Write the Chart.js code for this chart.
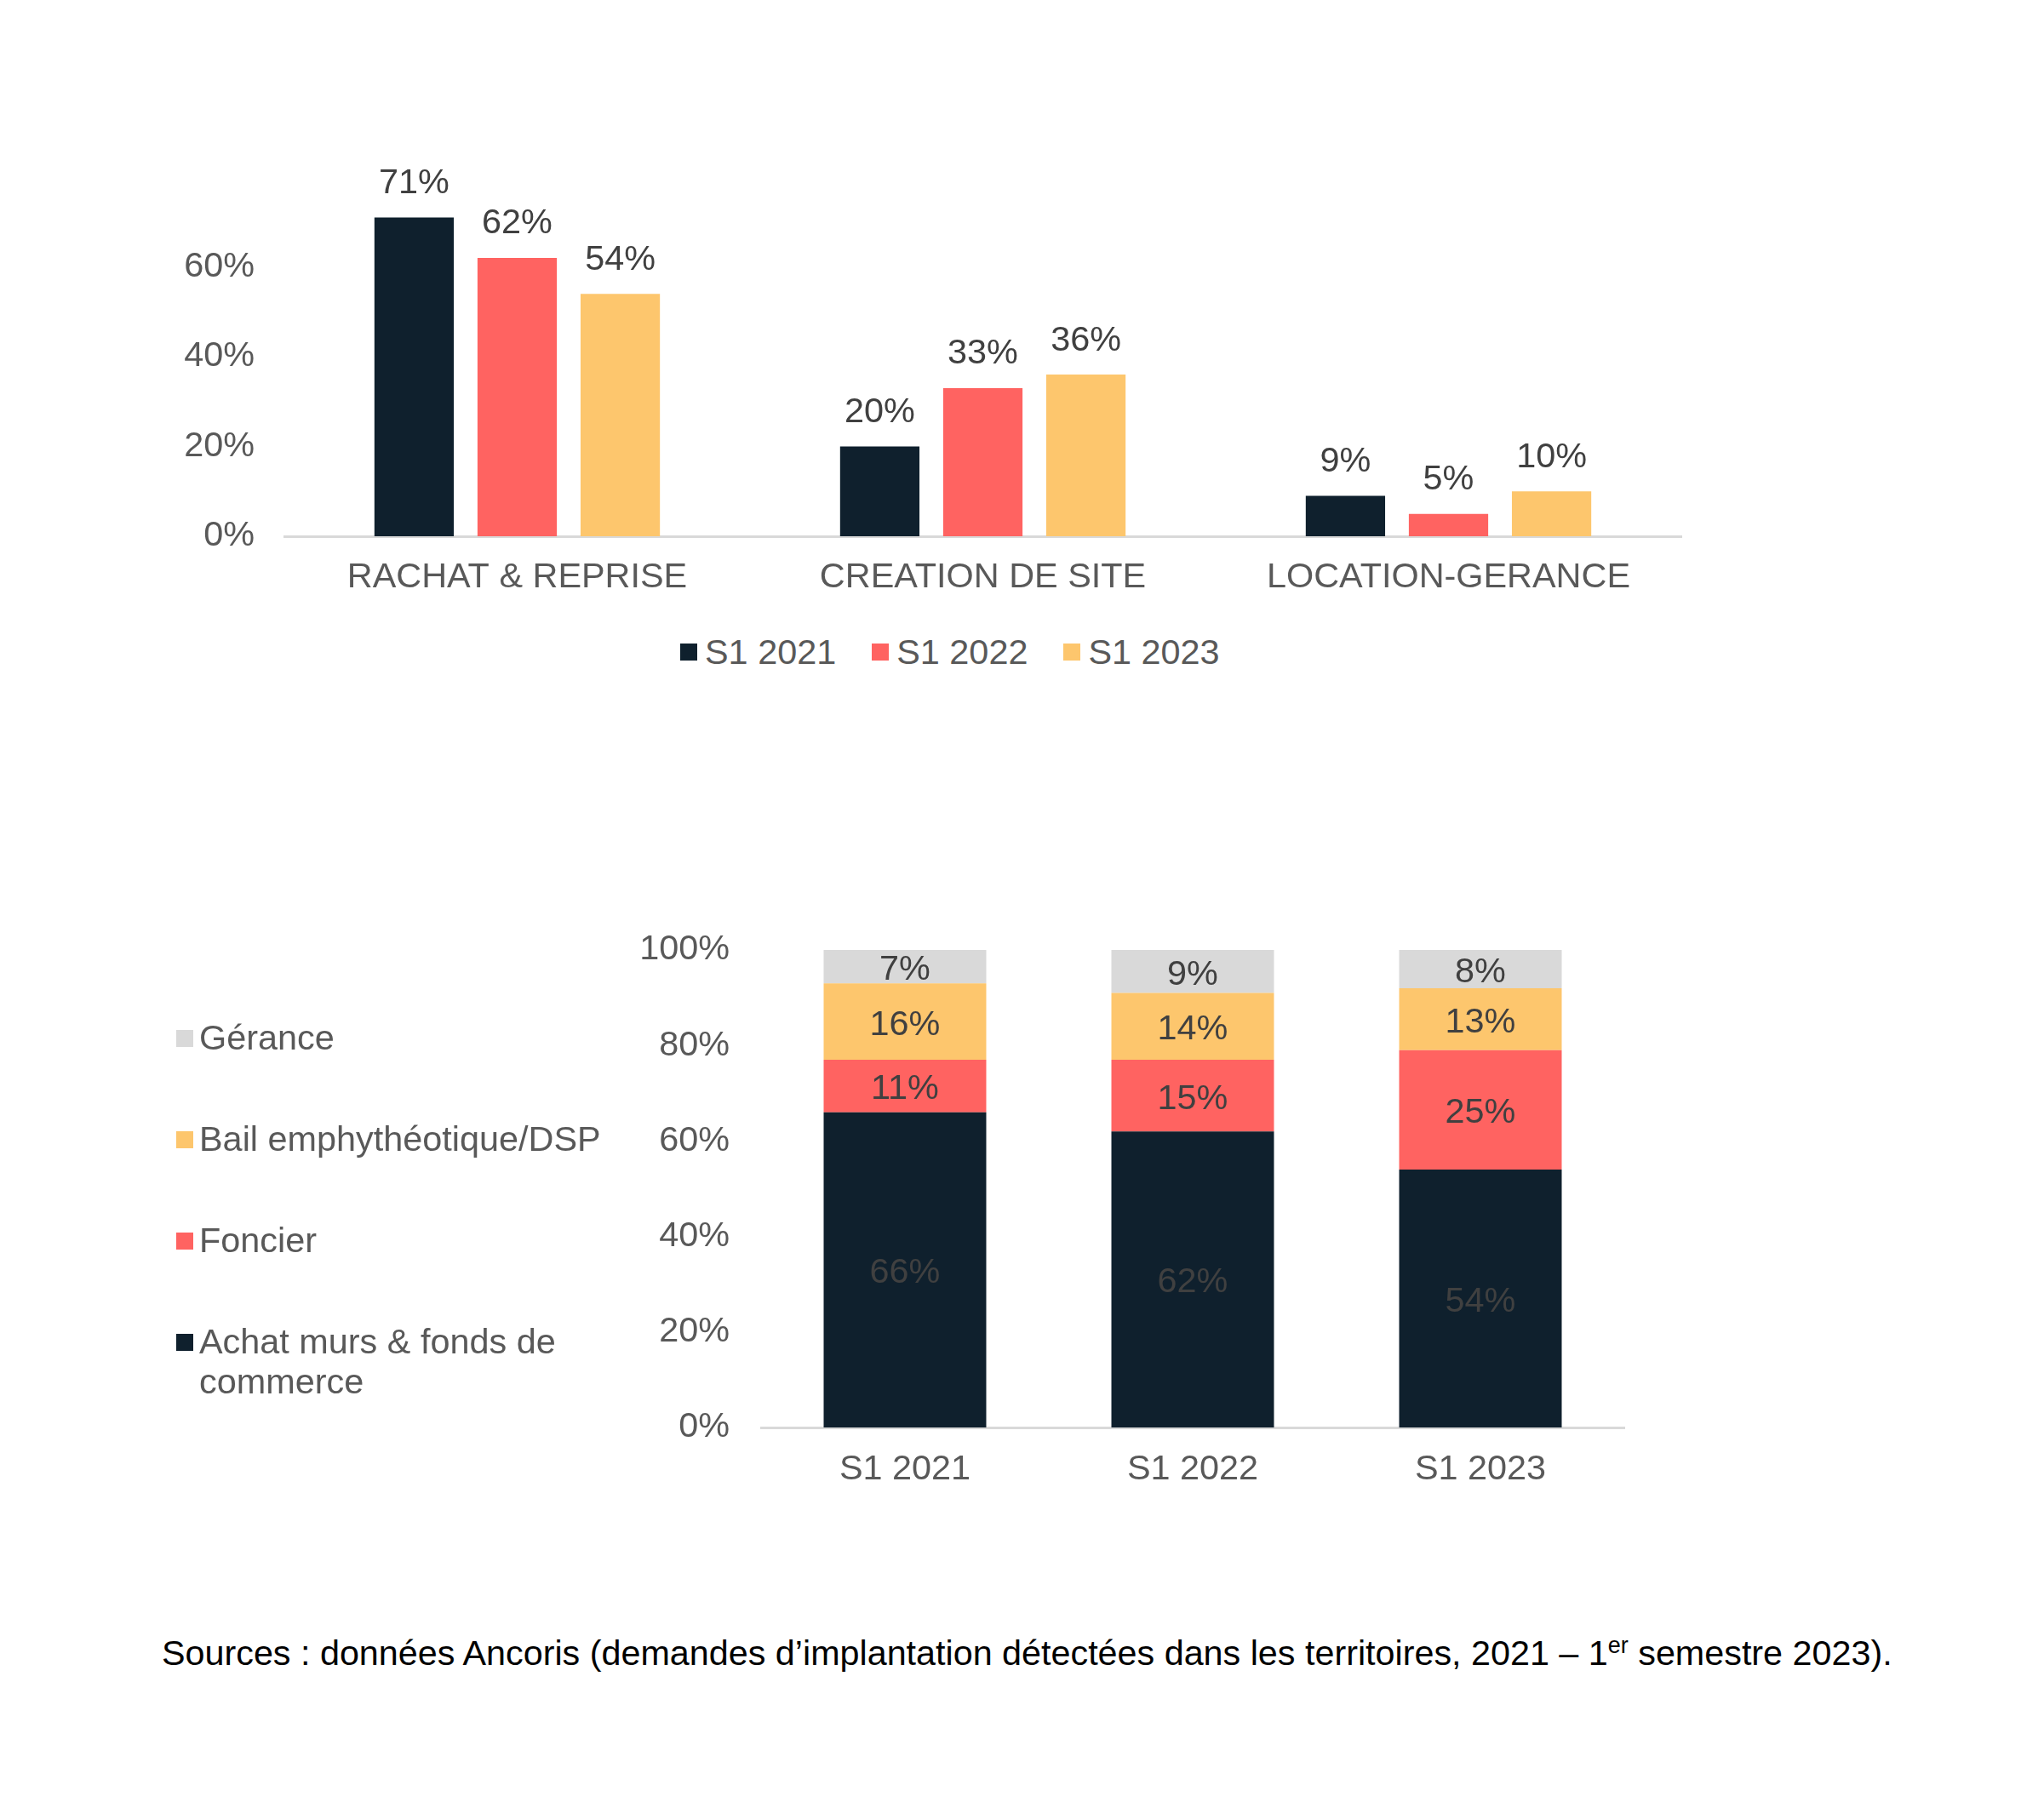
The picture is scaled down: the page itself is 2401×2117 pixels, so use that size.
<!DOCTYPE html>
<html>
<head>
<meta charset="utf-8">
<script src="https://cdn.jsdelivr.net/npm/chart.js@4.4.1/dist/chart.umd.min.js"></script>
<style>
  html, body { margin:0; padding:0; background:#fff; width:2401px; height:2117px; overflow:hidden; }
  body { position:relative; font-family:"Liberation Sans", Arial, sans-serif; }
  .cv { position:absolute; }
  .leg { position:absolute; color:#595959; font-size:41.4px; line-height:48px; }
  .sq { display:inline-block; width:20px; height:20px; vertical-align:middle; }
  #topLegend { left:799px; top:742px; white-space:nowrap; display:flex; align-items:center; }
  #topLegend .item { display:flex; align-items:center; margin-right:42px; }
  #topLegend .sq { margin-right:9px; }
  .bitem { position:absolute; left:207px; width:560px; }
  .bitem .sq { position:absolute; left:0; top:14px; }
  .bitem .txt { position:absolute; left:27px; width:500px; line-height:47px; }
  #source { position:absolute; left:190px; top:1916px; font-size:41.3px; color:#000; white-space:nowrap; line-height:52px; }
  #source sup { font-size:27px; vertical-align:0; position:relative; top:-14px; }
</style>
</head>
<body>
<canvas id="c1" class="cv" style="left:190px;top:150px;" width="1850" height="580"></canvas>
<div id="topLegend" class="leg"></div>
<canvas id="c2" class="cv" style="left:700px;top:1060px;" width="1280" height="720"></canvas>
<div id="botLegend"></div>
<div id="source">Sources : données Ancoris (demandes d’implantation détectées dans les territoires, 2021 – 1<sup>er</sup> semestre 2023).</div>
<script>
// ---- Data: top chart ----
const topCategories = ['RACHAT & REPRISE', 'CREATION DE SITE', 'LOCATION-GERANCE'];
const topSeriesNames = ['S1 2021', 'S1 2022', 'S1 2023'];
const topS12021 = [71, 20, 9];
const topS12022 = [62, 33, 5];
const topS12023 = [54, 36, 10];
const topTicks = [0, 20, 40, 60];

// ---- Data: bottom chart ----
const botCategories = ['S1 2021', 'S1 2022', 'S1 2023'];
const botSeriesNames = ['Achat murs & fonds de commerce', 'Foncier', 'Bail emphythéotique/DSP', 'Gérance'];
const botAchat = [66, 62, 54];
const botFoncier = [11, 15, 25];
const botBail = [16, 14, 13];
const botGerance = [7, 9, 8];
const botTicks = [0, 20, 40, 60, 80, 100];

const C_DARK = '#0f202d', C_RED = '#ff6361', C_YEL = '#fdc66d', C_GRAY = '#d9d9d9';
const FONT = '"Liberation Sans", Arial, sans-serif';
const FS = 41.4;
Chart.defaults.font.family = FONT;
Chart.defaults.animation = false;

const labelPlugin = {
  id: 'vlabels',
  afterDatasetsDraw(chart, args, opts) {
    const ctx = chart.ctx;
    ctx.save();
    ctx.font = FS + 'px ' + FONT;
    ctx.fillStyle = '#404040';
    ctx.textAlign = 'center';
    ctx.textBaseline = 'middle';
    chart.data.datasets.forEach((ds, di) => {
      const meta = chart.getDatasetMeta(di);
      meta.data.forEach((bar, i) => {
        const v = ds.data[i];
        const txt = v + '%';
        if (opts.mode === 'above') {
          ctx.fillText(txt, bar.x, bar.y - 40);
        } else {
          ctx.fillText(txt, bar.x, (bar.y + bar.base) / 2 + 4);
        }
      });
    });
    ctx.restore();
  }
};

function fixY(width) {
  return s => { s.width = width; s.paddingTop = 0; s.paddingBottom = 0; };
}
function fixX(height) {
  return s => { s.height = height; s.paddingLeft = 0; s.paddingRight = 0; };
}

// ---- Top chart ----
const topColors = [C_DARK, C_RED, C_YEL];
new Chart(document.getElementById('c1'), {
  type: 'bar',
  data: {
    labels: topCategories,
    datasets: [topS12021, topS12022, topS12023].map((d, i) => ({
      label: topSeriesNames[i], data: d, backgroundColor: topColors[i],
      categoryPercentage: 0.664, barPercentage: 0.77, borderWidth: 0
    }))
  },
  options: {
    responsive: false,
    layout: { padding: { top: 58, right: 65, left: 0, bottom: 0 } },
    plugins: { legend: { display: false }, tooltip: { enabled: false }, vlabels: { mode: 'above' } },
    scales: {
      x: {
        grid: { display: false, drawTicks: false },
        border: { display: true, color: '#d9d9d9', width: 3 },
        ticks: { color: '#595959', font: { size: FS }, padding: 24, maxRotation: 0 },
        afterFit: fixX(100)
      },
      y: {
        min: 0, max: 80,
        grid: { display: false, drawTicks: false },
        border: { display: false },
        afterBuildTicks: s => { s.ticks = topTicks.map(v => ({ value: v })); },
        ticks: { color: '#595959', font: { size: FS }, padding: 35, callback: v => v + '%' },
        afterFit: fixY(144)
      }
    }
  },
  plugins: [labelPlugin]
});

// top legend (HTML)
const tl = document.getElementById('topLegend');
topSeriesNames.forEach((n, i) => {
  const it = document.createElement('span');
  it.className = 'item';
  it.innerHTML = '<span class="sq" style="background:' + topColors[i] + '"></span><span>' + n + '</span>';
  tl.appendChild(it);
});

// ---- Bottom chart ----
const botColors = [C_DARK, C_RED, C_YEL, C_GRAY];
new Chart(document.getElementById('c2'), {
  type: 'bar',
  data: {
    labels: botCategories,
    datasets: [botAchat, botFoncier, botBail, botGerance].map((d, i) => ({
      label: botSeriesNames[i], data: d, backgroundColor: botColors[i],
      categoryPercentage: 1, barPercentage: 0.565, borderWidth: 0
    }))
  },
  options: {
    responsive: false,
    layout: { padding: { top: 56, right: 72, left: 0, bottom: 0 } },
    plugins: { legend: { display: false }, tooltip: { enabled: false }, vlabels: { mode: 'center' } },
    scales: {
      x: {
        stacked: true,
        grid: { display: false, drawTicks: false },
        border: { display: true, color: '#d9d9d9', width: 3 },
        ticks: { color: '#595959', font: { size: FS }, padding: 25, maxRotation: 0 },
        afterFit: fixX(103)
      },
      y: {
        stacked: true, min: 0, max: 100,
        grid: { display: false, drawTicks: false },
        border: { display: false },
        afterBuildTicks: s => { s.ticks = botTicks.map(v => ({ value: v })); },
        ticks: { color: '#595959', font: { size: FS }, padding: 37, callback: v => v + '%' },
        afterFit: fixY(194)
      }
    }
  },
  plugins: [labelPlugin]
});

// bottom legend (HTML), listed top to bottom in reverse order
const bl = document.getElementById('botLegend');
const legendOrder = [3, 2, 1, 0];
legendOrder.forEach((si, k) => {
  const it = document.createElement('div');
  it.className = 'bitem leg';
  it.style.top = (1220 - 24 + k * 119) + 'px';
  it.innerHTML = '<span class="sq" style="background:' + botColors[si] + '"></span><span class="txt">' + botSeriesNames[si] + '</span>';
  bl.appendChild(it);
});
</script>
</body>
</html>
